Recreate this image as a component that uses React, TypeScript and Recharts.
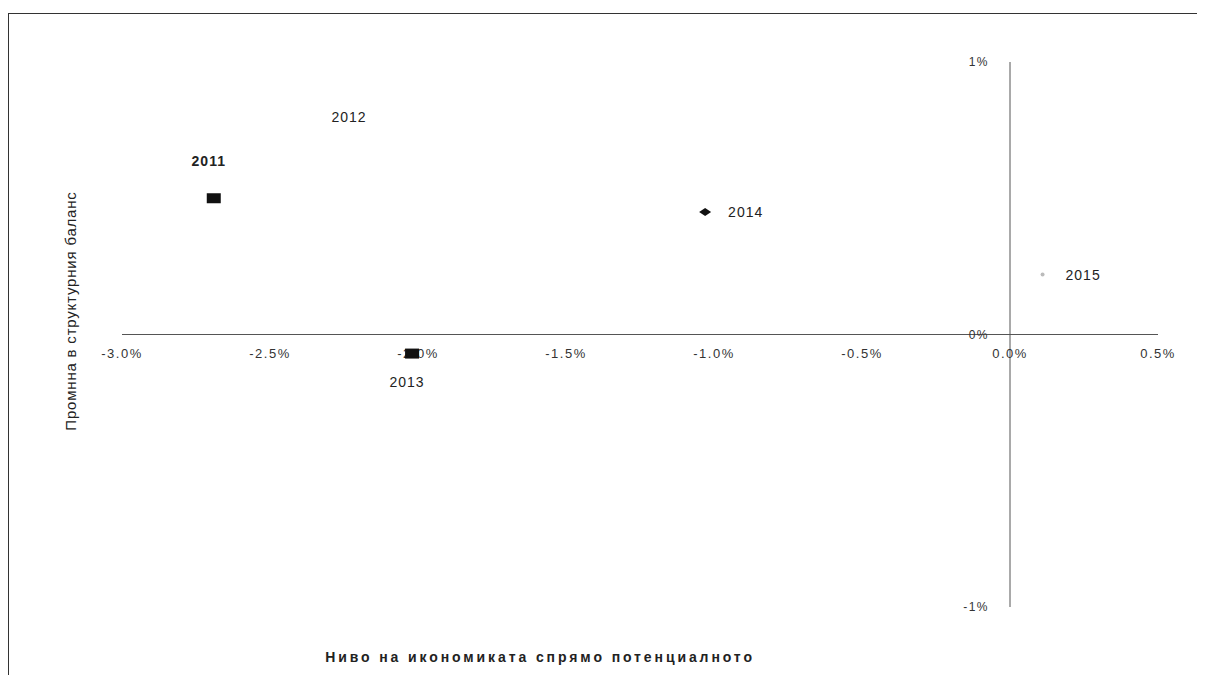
import React from 'react';
import { ScatterChart, Scatter, XAxis, YAxis, ReferenceLine, ReferenceDot } from 'recharts';

const years = ['2011', '2012', '2013', '2014', '2015'];
const outputGap = [-2.69, -2.37, -2.02, -1.03, 0.11];
const structuralChange = [0.5, 0.8, -0.07, 0.45, 0.22];
const xTicks = [-3.0, -2.5, -2.0, -1.5, -1.0, -0.5, 0.0, 0.5];
const xTickLabels = ['-3.0%', '-2.5%', '-2.0%', '-1.5%', '-1.0%', '-0.5%', '0.0%', '0.5%'];
const yTicks = [1, 0, -1];
const yTickLabels = ['1%', '0%', '-1%'];
const yTitle = 'Промнна в структурния баланс';
const xTitle = 'Ниво на икономиката спрямо потенциалното';

const markerKind: Record<string, string> = {
  '2011': 'square',
  '2012': 'none',
  '2013': 'square',
  '2014': 'diamond',
  '2015': 'tiny',
};
const labelPlace: Record<string, string> = {
  '2011': 'above',
  '2012': 'right',
  '2013': 'below',
  '2014': 'right',
  '2015': 'right',
};

const FONT = 'Liberation Sans, Arial, sans-serif';

const makeShape = (year: string) => (props: any) => {
  const { cx, cy } = props;
  const kind = markerKind[year];
  const place = labelPlace[year];
  let marker: React.ReactNode = null;
  if (kind === 'square') {
    marker = <rect x={cx - 7} y={cy - 5} width={14} height={10} fill="#111" />;
  } else if (kind === 'diamond') {
    marker = <polygon points={`${cx - 6},${cy} ${cx},${cy - 4} ${cx + 6},${cy} ${cx},${cy + 4}`} fill="#111" />;
  } else if (kind === 'tiny') {
    marker = <circle cx={cx} cy={cy} r={2} fill="#bbb" />;
  }
  let tx = cx;
  let ty = cy;
  let anchor: 'start' | 'middle' = 'middle';
  if (place === 'right') {
    tx = cx + 23;
    ty = cy + 5;
    anchor = 'start';
  } else if (place === 'above') {
    tx = cx - 5;
    ty = cy - 32;
  } else if (place === 'below') {
    tx = cx - 5;
    ty = cy + 33;
  }
  return (
    <g>
      {marker}
      <text
        x={tx}
        y={ty}
        textAnchor={anchor}
        fontFamily={FONT}
        fontSize={14}
        letterSpacing={1}
        fontWeight={year === '2011' ? 'bold' : 'normal'}
        fill="#222"
      >
        {year}
      </text>
    </g>
  );
};

const xTickShape = (label: string) => (props: any) => (
  <text x={props.cx} y={props.cy + 23} textAnchor="middle" fontFamily={FONT} fontSize={13} letterSpacing={1.5} fill="#333">
    {label}
  </text>
);
const yTickShape = (label: string) => (props: any) => (
  <text x={props.cx - 21} y={props.cy + 4} textAnchor="end" fontFamily={FONT} fontSize={12} letterSpacing={1.5} fill="#333">
    {label}
  </text>
);

export default function App() {
  return (
    <div style={{ position: 'relative', width: 1197, height: 667, background: '#fff' }}>
      <div
        style={{
          position: 'absolute',
          left: 0,
          top: 5,
          width: 1197,
          height: 662,
          borderTop: '1.5px solid #333',
          borderLeft: '1.5px solid #333',
          boxSizing: 'border-box',
        }}
      />
      <ScatterChart width={1197} height={667} margin={{ top: 54, right: 47, bottom: 68, left: 114 }}>
        <XAxis type="number" dataKey="x" domain={[-3, 0.5]} ticks={xTicks} hide />
        <YAxis type="number" dataKey="y" domain={[-1, 1]} ticks={yTicks} hide />
        <ReferenceLine y={0} stroke="#555" strokeWidth={1} />
        <ReferenceLine x={0} stroke="#555" strokeWidth={1} />
        {xTicks.map((t, i) => (
          <ReferenceDot key={'xt' + i} x={t} y={0} r={0} shape={xTickShape(xTickLabels[i])} />
        ))}
        {yTicks.map((t, i) => (
          <ReferenceDot key={'yt' + i} x={0} y={t} r={0} shape={yTickShape(yTickLabels[i])} />
        ))}
        {years.map((yr, i) => (
          <Scatter
            key={yr}
            name={yr}
            data={[{ x: outputGap[i], y: structuralChange[i] }]}
            shape={makeShape(yr)}
            isAnimationActive={false}
          />
        ))}
      </ScatterChart>
      <div
        style={{
          position: 'absolute',
          left: 62,
          top: 303,
          transform: 'translate(-50%, -50%) rotate(-90deg)',
          whiteSpace: 'nowrap',
          fontFamily: FONT,
          fontSize: 15,
          letterSpacing: 0.8,
          color: '#222',
        }}
      >
        {yTitle}
      </div>
      <div
        style={{
          position: 'absolute',
          left: 532,
          top: 649,
          transform: 'translate(-50%, -50%)',
          whiteSpace: 'nowrap',
          fontFamily: FONT,
          fontSize: 14,
          fontWeight: 'bold',
          letterSpacing: 2.9,
          color: '#222',
        }}
      >
        {xTitle}
      </div>
    </div>
  );
}
